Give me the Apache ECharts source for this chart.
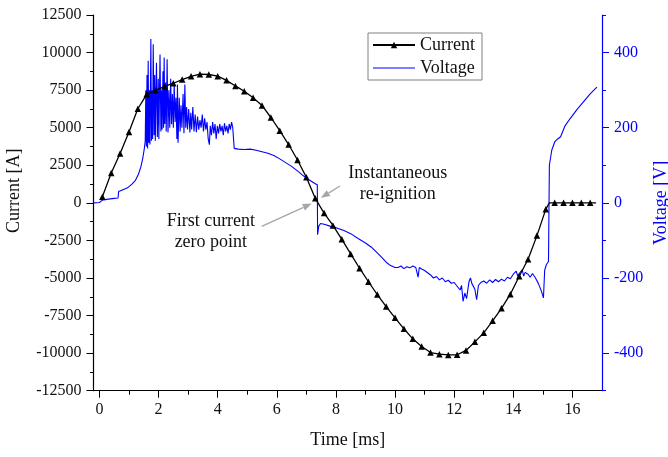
<!DOCTYPE html>
<html>
<head>
<meta charset="utf-8">
<script src="https://cdn.jsdelivr.net/npm/echarts@6/dist/echarts.min.js"></script>
<style>
  html, body { margin: 0; padding: 0; background: #fff; }
  #chart { width: 668px; height: 457px; }
</style>
</head>
<body>
<div id="chart"></div>
<script>
// Arc current samples (ms, A), one triangle marker per sample
const currentTime = [0.1, 0.4, 0.7, 1.0, 1.3, 1.6, 1.9, 2.2, 2.5, 2.8, 3.1, 3.4, 3.7, 4.0, 4.3, 4.6, 4.9,
  5.2, 5.5, 5.8, 6.1, 6.4, 6.7, 7.0, 7.3, 7.6, 7.9, 8.2, 8.5, 8.8, 9.1, 9.4, 9.7, 10.0, 10.3, 10.6,
  10.9, 11.2, 11.5, 11.8, 12.1, 12.4, 12.7, 13.0, 13.3, 13.6, 13.9, 14.2, 14.5, 14.8, 15.1, 15.22,
  15.4, 15.7, 16.0, 16.3, 16.6, 16.8];
const currentValue = [400, 1990, 3290, 4720, 6260, 7220, 7500, 7740, 7960, 8200, 8420, 8560, 8540, 8430,
  8150, 7780, 7430, 7000, 6480, 5680, 4800, 3880, 2850, 1700, 300, -680, -1500, -2430, -3400, -4350,
  -5250, -6100, -6900, -7650, -8380, -9050, -9560, -9960, -10070, -10120, -10110, -9820, -9250, -8650,
  -7850, -7020, -6080, -4880, -3750, -2180, -420, 0, 0, 0, 0, 0, 0, 0];
// samples that only bend the line, drawn without a marker
const currentPlain = [15.22, 16.8];

// Arc voltage trace (ms, V)
const voltagePoints = [
  [-0.2, 0], [0.0, 1], [0.08, 6], [0.15, 8], [0.3, 10], [0.5, 12], [0.63, 13], [0.65, 30], [0.8, 35],
  [0.95, 40], [1.1, 50], [1.22, 60], [1.32, 76], [1.4, 95], [1.47, 120], [1.52, 145],
  [1.55, 165], [1.57, 300], [1.59, 150], [1.61, 340], [1.63, 145], [1.65, 378], [1.67, 160], [1.69, 300],
  [1.71, 155], [1.74, 436], [1.76, 165], [1.78, 300], [1.80, 170], [1.82, 422], [1.85, 180], [1.87, 340],
  [1.89, 165], [1.93, 373], [1.96, 175], [1.99, 330], [2.01, 170], [2.05, 395], [2.08, 190], [2.10, 300],
  [2.12, 195], [2.15, 350], [2.17, 200], [2.19, 387], [2.21, 210], [2.24, 320], [2.26, 190], [2.29, 382],
  [2.32, 187], [2.35, 300], [2.38, 200], [2.41, 330], [2.44, 209], [2.47, 290], [2.50, 200], [2.53, 320],
  [2.56, 215], [2.59, 280], [2.62, 170], [2.64, 315], [2.66, 160], [2.70, 280], [2.73, 190], [2.76, 260],
  [2.79, 200], [2.83, 290], [2.86, 185], [2.89, 315], [2.92, 200], [2.95, 255], [2.98, 195], [3.02, 250],
  [3.06, 187], [3.09, 240], [3.12, 195], [3.16, 255], [3.20, 190], [3.24, 235], [3.28, 188], [3.32, 230],
  [3.36, 195], [3.40, 220], [3.44, 200], [3.48, 235], [3.52, 190], [3.56, 225], [3.60, 195], [3.64, 215],
  [3.68, 170], [3.72, 155], [3.75, 205], [3.79, 180], [3.83, 215], [3.87, 185], [3.91, 210], [3.95, 170],
  [3.99, 205], [4.03, 185], [4.07, 210], [4.11, 190], [4.15, 205], [4.19, 180], [4.23, 212], [4.27, 190],
  [4.31, 205], [4.35, 185], [4.39, 210], [4.43, 195], [4.47, 215], [4.51, 200], [4.55, 205], [4.56, 145],
  [4.7, 143], [4.9, 142], [5.1, 143], [5.3, 140], [5.5, 136], [5.7, 132], [5.9, 126], [6.1, 117],
  [6.3, 107], [6.5, 97], [6.7, 85], [6.9, 72], [7.1, 61], [7.3, 51], [7.37, 48], [7.38, -85],
  [7.42, -62], [7.48, -55], [7.6, -57], [7.8, -62], [8.0, -66], [8.25, -73], [8.5, -82], [8.75, -95],
  [9.0, -107], [9.2, -118], [9.4, -133], [9.55, -145], [9.7, -158], [9.85, -167], [10.0, -172],
  [10.1, -172], [10.2, -168], [10.3, -175], [10.4, -170], [10.5, -173], [10.6, -168], [10.7, -172],
  [10.78, -198], [10.82, -172], [10.9, -176], [11.0, -180], [11.1, -186], [11.2, -192], [11.3, -200],
  [11.4, -196], [11.5, -205], [11.6, -200], [11.7, -210], [11.8, -206], [11.9, -214], [12.0, -212],
  [12.1, -222], [12.2, -232], [12.25, -220], [12.3, -262], [12.36, -240], [12.42, -255], [12.5, -210],
  [12.55, -200], [12.6, -215], [12.7, -230], [12.76, -258], [12.82, -220], [12.9, -212], [13.0, -208],
  [13.1, -214], [13.2, -205], [13.3, -212], [13.4, -204], [13.5, -210], [13.6, -203], [13.7, -208],
  [13.8, -198], [13.9, -202], [14.0, -190], [14.1, -182], [14.15, -195], [14.2, -188], [14.3, -178],
  [14.35, -195], [14.4, -185], [14.5, -190], [14.57, -198], [14.65, -188], [14.75, -200], [14.85, -215],
  [14.95, -235], [15.02, -253], [15.06, -180], [15.12, -164], [15.19, -156], [15.22, 100], [15.3, 140],
  [15.4, 162], [15.5, 170], [15.6, 176], [15.75, 205], [15.9, 222], [16.0, 232], [16.15, 248],
  [16.3, 262], [16.45, 276], [16.6, 290], [16.75, 302], [16.83, 308]
];

// Axis ticks and labels
const timeTicks = [0, 2, 4, 6, 8, 10, 12, 14, 16];
const timeMinorTicks = [1, 3, 5, 7, 9, 11, 13, 15];
const voltageTicks = [-400, -200, 0, 200, 400];
const voltageMinorTicks = [-500, -300, -100, 100, 300, 500];

// Callouts, placed in (ms, A)
const notes = [
  { text: 'Instantaneous\nre-ignition', at: [10.09, 1270] },
  { text: 'First current\nzero point', at: [3.77, -1930] }
];
const pointers = [
  { from: [8.14, 1120], to: [7.49, 333] },
  { from: [5.49, -1560], to: [7.18, -47] }
];

const FONT = 'Liberation Serif';
const INK = '#111';
const BLUE = '#0000ff';
const PLOT = { left: 93.5, right: 66, top: 15, bottom: 66.3, outerBoundsMode: 'none', containLabel: false };

const chart = echarts.init(document.getElementById('chart'), null, { renderer: 'canvas' });

const currentData = currentTime.map((t, i) => {
  const item = { value: [t, currentValue[i]] };
  if (currentPlain.indexOf(t) >= 0) item.symbol = 'none';
  return item;
});

const plain = v => String(v);

chart.setOption({
  animation: false,
  backgroundColor: '#fff',
  // second grid shares the plot box and only carries the minor ticks
  grid: [Object.assign({}, PLOT), Object.assign({}, PLOT)],
  legend: {
    left: 368, top: 33, orient: 'vertical',
    borderColor: '#808080', borderWidth: 1, padding: [3, 7, 3, 4],
    itemWidth: 42, itemHeight: 8, itemGap: 5,
    textStyle: { fontFamily: FONT, fontSize: 18, color: INK },
    data: [
      { name: 'Current' },
      { name: 'Voltage', icon: 'path://M0,0H42V1.1H0Z' }
    ]
  },
  xAxis: [{
    type: 'value', gridIndex: 0, min: -0.2, max: 17, position: 'bottom',
    axisLine: { onZero: false, lineStyle: { color: '#000', width: 1.2 } },
    axisTick: { customValues: timeTicks, length: 7, lineStyle: { color: '#000' } },
    axisLabel: { customValues: timeTicks, formatter: plain, margin: 11, fontFamily: FONT, fontSize: 16, color: INK },
    splitLine: { show: false },
    name: 'Time [ms]', nameLocation: 'middle', nameGap: 41,
    nameTextStyle: { fontFamily: FONT, fontSize: 18, color: INK }
  }, {
    type: 'value', gridIndex: 1, min: -0.2, max: 17, position: 'bottom',
    axisLine: { show: false, onZero: false },
    axisTick: { customValues: timeMinorTicks, length: 4, lineStyle: { color: '#000' } },
    axisLabel: { show: false },
    splitLine: { show: false }
  }],
  yAxis: [{
    type: 'value', gridIndex: 0, min: -12500, max: 12500, interval: 2500, position: 'left',
    axisLine: { show: true, onZero: false, lineStyle: { color: '#000', width: 1.2 } },
    axisTick: { show: true, length: 7, lineStyle: { color: '#000' } },
    minorTick: { show: true, splitNumber: 2, length: 3.5, lineStyle: { color: '#000' } },
    axisLabel: { formatter: plain, margin: 12, fontFamily: FONT, fontSize: 16, color: INK },
    splitLine: { show: false },
    name: 'Current [A]', nameLocation: 'middle', nameGap: 70, nameRotate: 90,
    nameTextStyle: { fontFamily: FONT, fontSize: 18, color: INK, padding: [0, 0, 0, 24] }
  }, {
    type: 'value', gridIndex: 0, min: -500, max: 500, position: 'right',
    axisLine: { show: true, onZero: false, lineStyle: { color: BLUE, width: 1.2 } },
    axisTick: { show: true, customValues: voltageTicks, length: 7, lineStyle: { color: BLUE } },
    axisLabel: { customValues: voltageTicks, formatter: plain, margin: 12, fontFamily: FONT, fontSize: 16, color: BLUE },
    splitLine: { show: false },
    name: 'Voltage [V]', nameLocation: 'middle', nameGap: 50, nameRotate: 90, nameMoveOverlap: false,
    nameTextStyle: { fontFamily: FONT, fontSize: 18, color: BLUE }
  }, {
    type: 'value', gridIndex: 1, min: -500, max: 500, position: 'right',
    axisLine: { show: false, onZero: false },
    axisTick: { show: true, customValues: voltageMinorTicks, length: 4, lineStyle: { color: BLUE } },
    axisLabel: { show: false },
    splitLine: { show: false }
  }],
  series: [{
    name: 'Voltage', type: 'line', xAxisIndex: 0, yAxisIndex: 1,
    data: voltagePoints, showSymbol: false, symbol: 'none',
    lineStyle: { color: BLUE, width: 1.1 }, itemStyle: { color: BLUE },
    z: 2
  }, {
    name: 'Current', type: 'line', xAxisIndex: 0, yAxisIndex: 0,
    data: currentData, symbol: 'triangle', symbolSize: 6.5,
    lineStyle: { color: '#000', width: 1.3 }, itemStyle: { color: '#000' },
    z: 3
  }]
});

// Callout texts and arrows, positioned through the current/time scales
function toPx(p) {
  return chart.convertToPixel({ xAxisIndex: 0, yAxisIndex: 0 }, p);
}
const graphics = [];
notes.forEach(n => {
  const [x, y] = toPx(n.at);
  graphics.push({
    type: 'text', x: x, y: y, z: 10,
    style: {
      text: n.text, fill: INK, font: '18px "' + FONT + '"',
      align: 'center', verticalAlign: 'middle', lineHeight: 21
    }
  });
});
pointers.forEach(p => {
  const [x1, y1] = toPx(p.from);
  const [x2, y2] = toPx(p.to);
  const ang = Math.atan2(y2 - y1, x2 - x1);
  const len = 9, half = 3.5;
  const bx = x2 - len * Math.cos(ang), by = y2 - len * Math.sin(ang);
  const nx = -Math.sin(ang) * half, ny = Math.cos(ang) * half;
  graphics.push({
    type: 'line', z: 10,
    shape: { x1: x1, y1: y1, x2: bx, y2: by },
    style: { stroke: '#a6a6a6', lineWidth: 1.3 }
  });
  graphics.push({
    type: 'polygon', z: 10,
    shape: { points: [[x2, y2], [bx + nx, by + ny], [bx - nx, by - ny]] },
    style: { fill: '#a6a6a6' }
  });
});
chart.setOption({ graphic: graphics });
</script>
</body>
</html>
